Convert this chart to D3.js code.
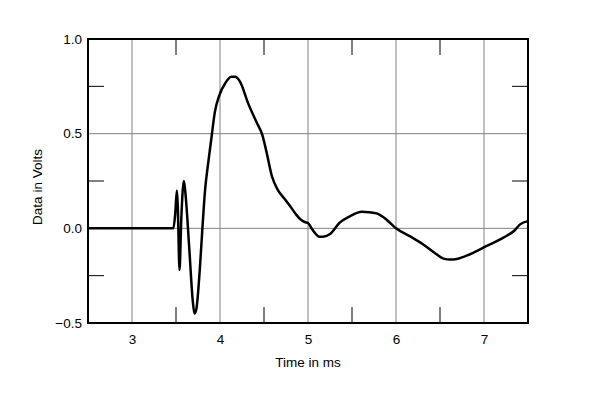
<!DOCTYPE html>
<html>
<head>
<meta charset="utf-8">
<script src="https://cdn.jsdelivr.net/npm/d3@7"></script>
<style>
  body { margin: 0; background: #fff; }
  text { font-family: "Liberation Sans", Arial, sans-serif; fill: #000; }
</style>
</head>
<body>
<div id="chart"></div>
<script>
// waveform samples (time in ms, volts)
const times = [2.5, 3.47, 3.49, 3.51, 3.52, 3.54, 3.56, 3.59, 3.61, 3.65, 3.69, 3.71, 3.73, 3.77, 3.80, 3.83, 3.87, 3.905, 3.94, 3.99, 4.06, 4.13, 4.17, 4.227, 4.32, 4.42, 4.48, 4.53, 4.59, 4.66, 4.73, 4.80, 4.87, 4.92, 4.97, 5.0, 5.04, 5.08, 5.13, 5.17, 5.25, 5.36, 5.48, 5.61, 5.70, 5.78, 5.89, 6.0, 6.15, 6.31, 6.44, 6.54, 6.62, 6.69, 6.84, 7.03, 7.22, 7.35, 7.41, 7.5];
const volts = [0, 0, 0.07, 0.20, 0.12, -0.22, 0.05, 0.25, 0.17, -0.10, -0.38, -0.45, -0.43, -0.22, 0.0, 0.20, 0.36, 0.486, 0.61, 0.70, 0.767, 0.80, 0.80, 0.775, 0.66, 0.556, 0.495, 0.40, 0.275, 0.20, 0.158, 0.115, 0.07, 0.045, 0.032, 0.028, 0.0, -0.025, -0.045, -0.044, -0.03, 0.03, 0.065, 0.088, 0.085, 0.079, 0.047, 0.0, -0.04, -0.085, -0.13, -0.16, -0.165, -0.162, -0.137, -0.093, -0.049, -0.01, 0.021, 0.038];
const xMajor = [3, 4, 5, 6, 7];
const xMinor = [3.5, 4.5, 5.5, 6.5];
const yMajor = [-0.5, 0.0, 0.5, 1.0];
const yMinor = [-0.25, 0.25, 0.75];

const data = times.map((t, i) => ({ t: t, v: volts[i] }));

const margin = { top: 39, right: 72, bottom: 75, left: 88 },
  width = 600 - margin.left - margin.right,
  height = 398 - margin.top - margin.bottom;

const x = d3.scaleLinear().domain([2.5, 7.5]).range([0, width]);
const y = d3.scaleLinear().domain([-0.5, 1.0]).range([height, 0]);

const font = "'Liberation Sans', Arial, sans-serif";

const svg = d3.select("#chart").append("svg")
  .attr("width", 600)
  .attr("height", 398)
  .append("g")
  .attr("transform", "translate(" + margin.left + "," + margin.top + ")");

// grid lines
svg.selectAll(".vgrid").data(xMajor).enter().append("line")
  .attr("x1", d => x(d)).attr("x2", d => x(d))
  .attr("y1", 0).attr("y2", height)
  .attr("stroke", "#808080").attr("stroke-width", 1);

svg.selectAll(".hgrid").data(yMajor.filter(d => d > -0.5 && d < 1)).enter().append("line")
  .attr("x1", 0).attr("x2", width)
  .attr("y1", d => y(d)).attr("y2", d => y(d))
  .attr("stroke", "#808080").attr("stroke-width", 1);

// minor ticks inside the frame
const tickLen = 16;
xMinor.forEach(d => {
  svg.append("line").attr("x1", x(d)).attr("x2", x(d)).attr("y1", 0).attr("y2", tickLen)
    .attr("stroke", "#000");
  svg.append("line").attr("x1", x(d)).attr("x2", x(d)).attr("y1", height).attr("y2", height - tickLen)
    .attr("stroke", "#000");
});
yMinor.forEach(d => {
  svg.append("line").attr("x1", 0).attr("x2", tickLen).attr("y1", y(d)).attr("y2", y(d))
    .attr("stroke", "#000");
  svg.append("line").attr("x1", width).attr("x2", width - tickLen).attr("y1", y(d)).attr("y2", y(d))
    .attr("stroke", "#000");
});

// axes (labels only)
svg.append("g")
  .attr("transform", "translate(0," + height + ")")
  .call(d3.axisBottom(x).tickValues(xMajor).tickSize(0).tickPadding(11).tickFormat(d3.format("d")))
  .call(g => g.select(".domain").remove())
  .call(g => g.selectAll("text").style("font-size", "13.5px").style("font-family", font));

svg.append("g")
  .call(d3.axisLeft(y).tickValues(yMajor).tickSize(0).tickPadding(6).tickFormat(d3.format(".1f")))
  .call(g => g.select(".domain").remove())
  .call(g => g.selectAll("text").style("font-size", "13.5px").style("font-family", font));

// waveform
const line = d3.line()
  .x(d => x(d.t))
  .y(d => y(d.v))
  .curve(d3.curveMonotoneX);

svg.append("path")
  .datum(data)
  .attr("fill", "none")
  .attr("stroke", "#000")
  .attr("stroke-width", 2.5)
  .attr("stroke-linejoin", "round")
  .attr("d", line);

// frame
svg.append("rect")
  .attr("width", width).attr("height", height)
  .attr("fill", "none").attr("stroke", "#000").attr("stroke-width", 2);

// axis titles
svg.append("text")
  .attr("x", width / 2)
  .attr("y", height + 44)
  .attr("text-anchor", "middle")
  .style("font-size", "13.5px")
  .text("Time in ms");

svg.append("text")
  .attr("transform", "rotate(-90)")
  .attr("x", -height / 2 - 6)
  .attr("y", -46)
  .attr("text-anchor", "middle")
  .style("font-size", "13.5px")
  .text("Data in Volts");
</script>
</body>
</html>
